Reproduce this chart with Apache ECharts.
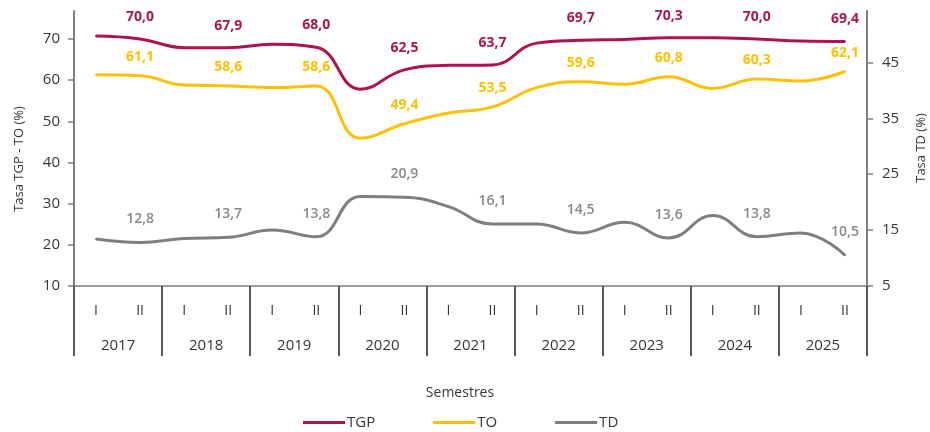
<!DOCTYPE html>
<html>
<head>
<meta charset="utf-8">
<script src="https://cdn.jsdelivr.net/npm/echarts@6/dist/echarts.min.js"></script>
<style>
  html, body { margin: 0; padding: 0; background: #ffffff; }
  #chart { width: 930px; height: 432px; }
</style>
</head>
<body>
<div id="chart"></div>
<script>
// Semester categories (I / II per year) and the year groups below them
var semesters = ['I','II','I','II','I','II','I','II','I','II','I','II','I','II','I','II','I','II'];
var years = ['2017','2018','2019','2020','2021','2022','2023','2024','2025'];

// Rates per semester (%)
var tgp = [70.7, 70.0, 67.9, 67.9, 68.7, 68.0, 57.8, 62.5, 63.6, 63.7, 69.0, 69.7, 69.9, 70.3, 70.3, 70.0, 69.5, 69.4];
var to  = [61.3, 61.1, 58.8, 58.6, 58.2, 58.6, 45.9, 49.4, 52.0, 53.5, 58.2, 59.6, 59.0, 60.8, 58.0, 60.3, 59.8, 62.1];
var td  = [13.4, 12.8, 13.5, 13.7, 15.0, 13.8, 21.0, 20.9, 19.2, 16.1, 16.1, 14.5, 16.4, 13.6, 17.6, 13.8, 14.5, 10.5];

// Axis tick values
var leftTicks = [10, 20, 30, 40, 50, 60, 70];
var rightTicks = [5, 15, 25, 35, 45];

var FONT = '"Open Sans", "Noto Sans", sans-serif';
var TEXT = '#363636';
var AXIS = '#7f7f7f';

function fmt(v) { return v.toFixed(1).replace('.', ','); }

// Only the second semester of each year carries a value label
function semLabel(p) { return p.dataIndex % 2 === 1 ? fmt(p.value) : ''; }

function lineSeries(name, data, color, yIdx, labelColor, weight, dist) {
  return {
    name: name,
    type: 'line',
    xAxisIndex: 0,
    yAxisIndex: yIdx,
    data: data,
    smooth: 0.45,
    symbol: 'circle',
    symbolSize: 2,
    showSymbol: true,
    itemStyle: { color: color },
    lineStyle: { color: color, width: 3 },
    label: {
      show: true,
      position: 'top',
      distance: dist,
      formatter: semLabel,
      color: labelColor,
      fontFamily: FONT,
      fontSize: 14,
      fontWeight: weight
    },
    emphasis: { disabled: true },
    animation: false
  };
}

var chart = echarts.init(document.getElementById('chart'), null, { renderer: 'canvas' });

chart.setOption({
  backgroundColor: '#ffffff',
  animation: false,
  grid: { left: 74, right: 63, top: 11, bottom: 146 },
  legend: {
    data: ['TGP', 'TO', 'TD'],
    left: 303,
    top: 415,
    padding: 0,
    icon: 'rect',
    itemWidth: 42,
    itemHeight: 3,
    itemGap: 58,
    textStyle: { fontFamily: FONT, fontSize: 15, color: TEXT, padding: [0, 0, 0, -3] }
  },
  xAxis: [
    {
      type: 'category',
      data: semesters,
      boundaryGap: true,
      position: 'bottom',
      axisLine: { show: true, lineStyle: { color: AXIS, width: 1.5 } },
      axisTick: { show: false },
      axisLabel: { margin: 18, fontFamily: FONT, fontSize: 14, color: TEXT, interval: 0 },
      splitLine: { show: false }
    },
    {
      type: 'category',
      data: years,
      boundaryGap: true,
      position: 'bottom',
      axisLine: { show: false },
      axisTick: { show: true, length: 70, interval: 0, lineStyle: { color: '#595959', width: 2 } },
      axisLabel: { margin: 52, fontFamily: FONT, fontSize: 15, color: TEXT, interval: 0 },
      splitLine: { show: false }
    }
  ],
  yAxis: [
    {
      type: 'value',
      position: 'left',
      min: 10,
      max: 76.8,
      axisLine: { show: true, lineStyle: { color: AXIS, width: 2 } },
      axisTick: { show: true, length: 6, customValues: leftTicks, lineStyle: { color: AXIS, width: 1.5 } },
      axisLabel: { customValues: leftTicks, margin: 14, fontFamily: FONT, fontSize: 15, color: TEXT },
      splitLine: { show: false }
    },
    {
      type: 'value',
      position: 'right',
      min: 5,
      max: 54.2,
      axisLine: { show: true, lineStyle: { color: AXIS, width: 2 } },
      axisTick: { show: true, length: 6, customValues: rightTicks, lineStyle: { color: AXIS, width: 1.5 } },
      axisLabel: { customValues: rightTicks, margin: 15, fontFamily: FONT, fontSize: 15, color: TEXT },
      splitLine: { show: false }
    }
  ],
  graphic: [
    {
      type: 'text', x: 460, y: 393,
      style: { text: 'Semestres', fontFamily: FONT, fontSize: 14, fill: TEXT, align: 'center', verticalAlign: 'middle' }
    },
    {
      type: 'text', x: 19, y: 159, rotation: Math.PI / 2,
      style: { text: 'Tasa TGP - TO (%)', fontFamily: FONT, fontSize: 13, fill: TEXT, align: 'center', verticalAlign: 'middle' }
    },
    {
      type: 'text', x: 921, y: 148, rotation: Math.PI / 2,
      style: { text: 'Tasa TD (%)', fontFamily: FONT, fontSize: 13, fill: TEXT, align: 'center', verticalAlign: 'middle' }
    }
  ],
  series: [
    lineSeries('TGP', tgp, '#B0124F', 0, '#A8174F', 'bold', 14),
    lineSeries('TO', to, '#FFC000', 0, '#FFC000', 'bold', 11),
    lineSeries('TD', td, '#7F7F7F', 1, '#888888', 600, 15)
  ]
});
</script>
</body>
</html>
